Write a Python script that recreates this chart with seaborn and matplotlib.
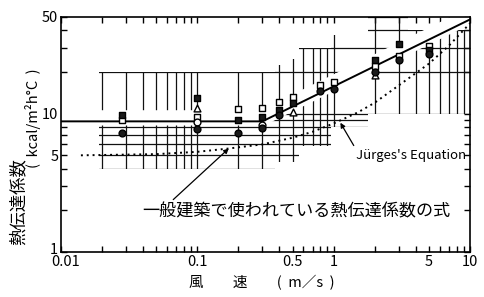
import numpy as np
import pandas as pd
import matplotlib
matplotlib.use("Agg")
import matplotlib.pyplot as plt
import matplotlib.transforms as mtransforms
from matplotlib.patches import Polygon
from matplotlib.ticker import FixedLocator, NullFormatter, FixedFormatter
import seaborn as sns

# ---------------- data ----------------
wind = [0.028, 0.1, 0.2, 0.3, 0.4, 0.5, 0.8, 1.0, 2.0, 3.0, 5.0]
sq_filled = [9.8, 13.0, 9.0, 9.5, 10.7, 12.0, np.nan, np.nan, 24.6, 32.0, 29.0]
sq_open = [9.0, 9.5, 10.8, 11.0, 12.2, 13.2, 16.2, 17.0, 22.0, 26.0, 31.0]
tri_open = [np.nan, 11.0, np.nan, np.nan, np.nan, 10.3, np.nan, np.nan, 18.9, np.nan, np.nan]
circ_open = [np.nan, 8.7, np.nan, 8.3, np.nan, np.nan, np.nan, np.nan, np.nan, np.nan, np.nan]
circ_filled = [7.3, 7.8, 7.3, 7.9, 9.8, np.nan, 14.5, 15.2, 20.0, 24.6, 27.0]

fit_x = [0.01, 0.3, 10.0]
fit_y = [8.8, 8.8, 48.0]

jurges_x = [0.014, 0.05, 0.1, 0.17, 0.3, 0.5, 0.7, 1.0, 1.5, 2.0, 3.0, 5.0, 7.0, 10.0]
jurges_y = [5.0, 5.1, 5.3, 5.6, 6.0, 6.7, 7.4, 8.5, 10.2, 12.0, 16.0, 23.0, 31.0, 45.0]

x_ticks = [0.01, 0.1, 0.5, 1, 5, 10]
x_ticklabels = ["0.01", "0.1", "0.5", "1", "5", "10"]
y_ticks = [1, 5, 10, 50]
y_ticklabels = ["1", "5", "10", "50"]

# region of the chart where the log grid is still visible (stepped band)
band_edges = [0.019, 0.37, 0.46, 0.56, 0.95, 1.8, 3.5, 10.0]
band_top = [20, 22.6, 25, 30, 37, 50, 40]
band_bottom = [4.0, 4.5, 4.5, 5.8, 8.0, 10.0, 10.0]

# ---------------- figure ----------------
sns.set_theme(style="white")
plt.rcParams["font.family"] = ["Noto Sans CJK JP", "DejaVu Sans"]
plt.rcParams["axes.unicode_minus"] = False

fig = plt.figure(figsize=(4.85, 2.97), dpi=100)
ax = fig.add_axes([61 / 485, 1 - 252 / 297, (470 - 61) / 485, (252 - 17) / 297])
ax.set_xscale("log")
ax.set_yscale("log")
ax.set_xlim(0.01, 10)
ax.set_ylim(1, 50)

# stepped clipping polygon for the grid
verts = []
for i in range(len(band_top)):
    verts.append((band_edges[i], band_top[i]))
    verts.append((band_edges[i + 1], band_top[i]))
for i in reversed(range(len(band_bottom))):
    verts.append((band_edges[i + 1], band_bottom[i]))
    verts.append((band_edges[i], band_bottom[i]))
clip = Polygon(verts, closed=True, transform=ax.transData, fill=False, edgecolor="none")
ax.add_patch(clip)

grid_x = [m * 10.0 ** e for e in (-2, -1, 0) for m in range(1, 10)][1:]
grid_y = [m * 10.0 ** e for e in (0, 1) for m in range(1, 10)][1:]
for gx in grid_x:
    ln, = ax.plot([gx, gx], [1, 50], color="#111111", lw=0.9, zorder=1)
    ln.set_clip_path(clip)
for gy in grid_y:
    ln, = ax.plot([0.01, 10], [gy, gy], color="#111111", lw=0.9, zorder=1)
    ln.set_clip_path(clip)

# white gap around the fitted line (as in the original print)
ax.plot(fit_x, [v * 1.06 for v in fit_y], color="white", lw=11, zorder=1.5,
        solid_capstyle="butt")

# fitted line and Jurges's equation
fit_df = pd.DataFrame({"v": fit_x, "h": fit_y})
jur_df = pd.DataFrame({"v": jurges_x, "h": jurges_y})
sns.lineplot(data=fit_df, x="v", y="h", ax=ax, color="black", lw=1.4, sort=False, zorder=2)
sns.lineplot(data=jur_df, x="v", y="h", ax=ax, color="black", lw=1.4, sort=False,
             linestyle=(0, (1, 2)), zorder=2)

# measured points
series = [
    (sq_open, "s", "white"),
    (tri_open, "^", "white"),
    (circ_open, "o", "white"),
    (sq_filled, "s", "#1a1a1a"),
    (circ_filled, "o", "#1a1a1a"),
]
for vals, mk, face in series:
    df = pd.DataFrame({"v": wind, "h": vals}).dropna()
    sns.scatterplot(data=df, x="v", y="h", ax=ax, marker=mk, s=24,
                    facecolor=face, edgecolor="black", linewidth=1.0, zorder=3)

# axes styling
for sp in ax.spines.values():
    sp.set_color("black")
    sp.set_linewidth(1.2)
    sp.set_zorder(4)
ax.xaxis.set_major_locator(FixedLocator(x_ticks))
ax.xaxis.set_major_formatter(FixedFormatter(x_ticklabels))
ax.yaxis.set_major_locator(FixedLocator(y_ticks))
ax.yaxis.set_major_formatter(FixedFormatter(y_ticklabels))
ax.xaxis.set_minor_locator(FixedLocator(grid_x))
ax.yaxis.set_minor_locator(FixedLocator(grid_y))
ax.xaxis.set_minor_formatter(NullFormatter())
ax.yaxis.set_minor_formatter(NullFormatter())
ax.tick_params(which="both", direction="in", top=True, right=True, bottom=True, left=True,
               length=4.5, width=1.0, color="black", labelsize=10.5, labelcolor="black")
ax.tick_params(axis="x", pad=2.5)
ax.tick_params(axis="y", pad=2)
ax.set_xlabel("")
ax.set_ylabel("")

# nudge the corner labels apart like in the reference
fig.canvas.draw()
xl = ax.get_xticklabels()
xl[0].set_transform(xl[0].get_transform() + mtransforms.ScaledTranslation(5 / 100, 0, fig.dpi_scale_trans))
yl = ax.get_yticklabels()
yl[0].set_transform(yl[0].get_transform() + mtransforms.ScaledTranslation(0, 4 / 100, fig.dpi_scale_trans))

# axis titles
fig.text(262 / 485, 1 - 283 / 297, "風　　速　　(  m／s  )", ha="center", va="center",
         fontsize=10.5, color="black")
fig.text(19 / 485, 1 - 202 / 297, "熱伝達係数", rotation=90, ha="center", va="center",
         fontsize=12.5, color="black")
fig.text(33 / 485, 1 - 118 / 297, "(  kcal/m²h°C  )", rotation=90, ha="center", va="center",
         fontsize=10.5, color="black")

# annotations
ax.annotate("Jürges's Equation", xy=(1.12, 8.6), xytext=(1.45, 5.0),
            ha="left", va="center", fontsize=9.5, color="black",
            arrowprops=dict(arrowstyle="-|>", color="black", lw=0.9,
                            mutation_scale=7, shrinkA=0, shrinkB=0,
                            relpos=(0.0, 1.0)))
ax.annotate("一般建築で使われている熱伝達係数の式", xy=(0.17, 5.6), xytext=(0.53, 1.95),
            ha="center", va="center", fontsize=12.3, color="black", annotation_clip=False,
            arrowprops=dict(arrowstyle="-|>", color="black", lw=0.9,
                            mutation_scale=7, shrinkA=0, shrinkB=0,
                            relpos=(0.09, 1.0)))

fig.savefig("out.png", dpi=100, facecolor="white")
